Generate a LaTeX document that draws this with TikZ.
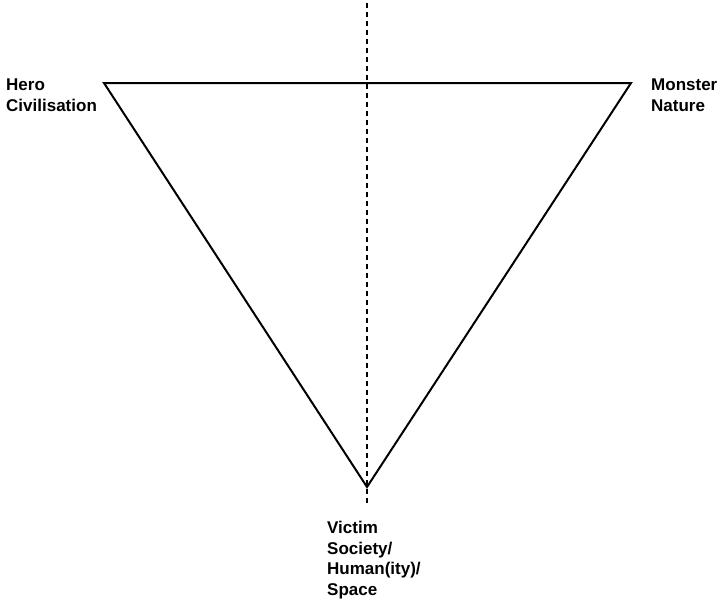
\documentclass[tikz,border=0pt]{standalone}
\usepackage{fontspec}
\setmainfont{Liberation Sans}
\begin{document}
\begin{tikzpicture}[x=1pt,y=-1pt,
  lbl/.style={anchor=north west,inner sep=0pt,align=left,font=\bfseries\fontsize{17}{20.5}\selectfont},
  edge/.style={line width=2pt,line join=miter},
  axis/.style={line width=2.4pt,dash pattern=on 5pt off 4pt}]
\useasboundingbox (0,0) rectangle (720,600);
\coordinate (tl) at (104,83);
\coordinate (tr) at (631,83);
\coordinate (bt) at (367,487);
\coordinate (atop) at (367,3);
\coordinate (abot) at (367,504);
\draw[edge] (tl) -- (tr) -- (bt) -- cycle;
\draw[axis] (atop) -- (abot);
\node[lbl] (hero) at (6,79) {Hero\\Civilisation};
\node[lbl] (monster) at (651,79) {Monster\\Nature};
\node[lbl] (victim) at (327,521) {Victim\\Society/\\Human(ity)/\\Space};
\end{tikzpicture}
\end{document}
